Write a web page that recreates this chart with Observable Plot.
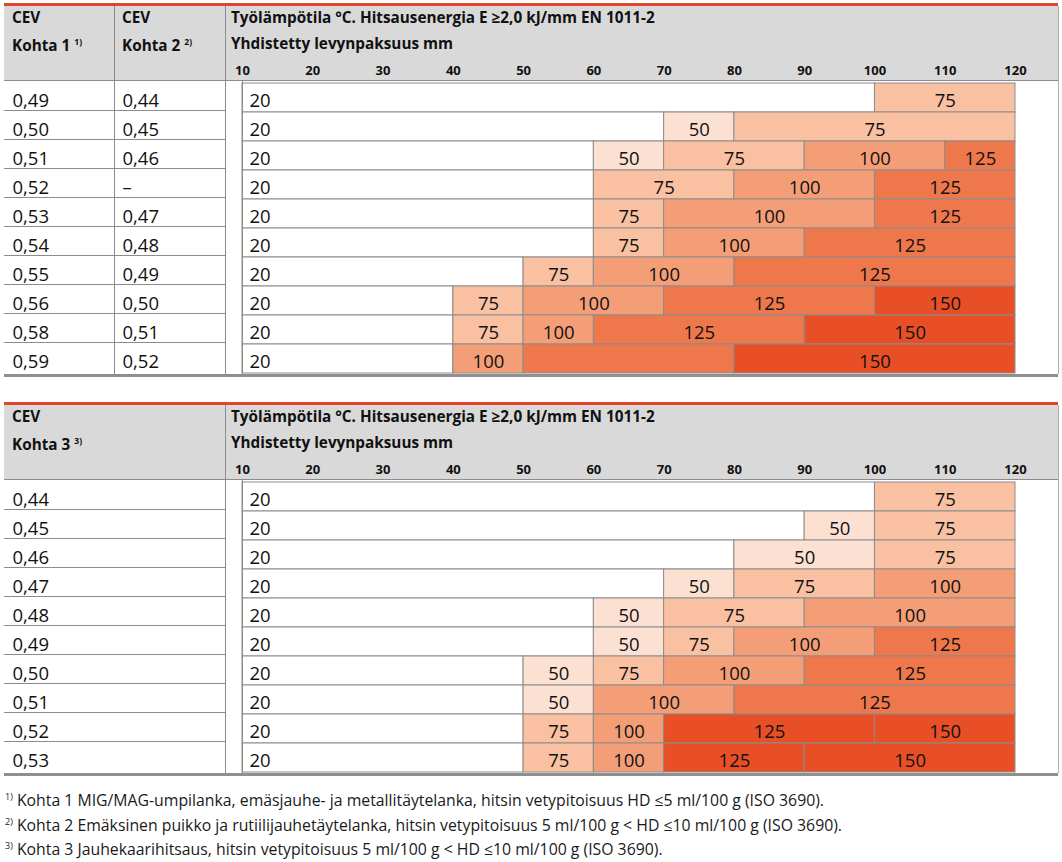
<!DOCTYPE html>
<html><head><meta charset="utf-8">
<script src="https://cdn.jsdelivr.net/npm/d3@7"></script>
<script src="https://cdn.jsdelivr.net/npm/@observablehq/plot@0.6"></script>
<style>
body{margin:0;background:#fff;font-family:"Open Sans",sans-serif;}
#chart svg{display:block;}
.notes{padding:4px 0 0 5px;font-size:15.8px;line-height:24.5px;color:#1a1a1a;}
.notes sup{font-size:9px;vertical-align:6px;line-height:0;}
</style></head>
<body>
<div id="chart"></div>
<div class="notes">
<div><sup>1)</sup> Kohta 1 MIG/MAG-umpilanka, emäsjauhe- ja metallitäytelanka, hitsin vetypitoisuus HD ≤5 ml/100 g (ISO 3690).</div>
<div><sup>2)</sup> Kohta 2 Emäksinen puikko ja rutiilijauhetäytelanka, hitsin vetypitoisuus 5 ml/100 g &lt; HD ≤10 ml/100 g (ISO 3690).</div>
<div><sup>3)</sup> Kohta 3 Jauhekaarihitsaus, hitsin vetypitoisuus 5 ml/100 g &lt; HD ≤10 ml/100 g (ISO 3690).</div>
</div>
<script>
// ---------- data ----------
const thicknessTicks = [10,20,30,40,50,60,70,80,90,100,110,120];
const headerTitle = "Työlämpötila °C. Hitsausenergia E ≥2,0 kJ/mm EN 1011-2";
const headerSub = "Yhdistetty levynpaksuus mm";

// Table 1
const cevKohta1 = ["0,49","0,50","0,51","0,52","0,53","0,54","0,55","0,56","0,58","0,59"];
const cevKohta2 = ["0,44","0,45","0,46","–","0,47","0,48","0,49","0,50","0,51","0,52"];
const t1Bounds = [
  [10,100,120],
  [10,70,80,120],
  [10,60,70,90,110,120],
  [10,60,80,100,120],
  [10,60,70,100,120],
  [10,60,70,90,120],
  [10,50,60,80,120],
  [10,40,50,70,100,120],
  [10,40,50,60,90,120],
  [10,40,50,80,120]
];
const t1Temps = [
  [20,75],
  [20,50,75],
  [20,50,75,100,125],
  [20,75,100,125],
  [20,75,100,125],
  [20,75,100,125],
  [20,75,100,125],
  [20,75,100,125,150],
  [20,75,100,125,150],
  [20,100,null,150]
];
const t1Tones = [
  [20,75],
  [20,50,75],
  [20,50,75,100,125],
  [20,75,100,125],
  [20,75,100,125],
  [20,75,100,125],
  [20,75,100,125],
  [20,75,100,125,150],
  [20,75,100,125,150],
  [20,100,125,150]
];

// Table 2
const cevKohta3 = ["0,44","0,45","0,46","0,47","0,48","0,49","0,50","0,51","0,52","0,53"];
const t2Bounds = [
  [10,100,120],
  [10,90,100,120],
  [10,80,100,120],
  [10,70,80,100,120],
  [10,60,70,90,120],
  [10,60,70,80,100,120],
  [10,50,60,70,90,120],
  [10,50,60,80,120],
  [10,50,60,70,100,120],
  [10,50,60,70,90,120]
];
const t2Temps = [
  [20,75],
  [20,50,75],
  [20,50,75],
  [20,50,75,100],
  [20,50,75,100],
  [20,50,75,100,125],
  [20,50,75,100,125],
  [20,50,100,125],
  [20,75,100,125,150],
  [20,75,100,125,150]
];
const t2Tones = [
  [20,75],
  [20,50,75],
  [20,50,75],
  [20,50,75,100],
  [20,50,75,100],
  [20,50,75,100,125],
  [20,50,75,100,125],
  [20,50,100,125],
  [20,75,100,150,150],
  [20,75,100,150,150]
];

const toneDomain = [20,50,75,100,125,150];
const toneColors = ["#ffffff","#fce1d3","#f9c0a2","#f49e78","#ef774c","#e84f27"];

// ---------- build ----------
function segments(keys, bounds, temps, tones) {
  const out = [];
  keys.forEach((k, i) => {
    const b = bounds[i];
    for (let j = 0; j < b.length - 1; j++)
      out.push({row: k, from: b[j], to: b[j+1], temp: temps[i][j], tone: tones[i][j]});
  });
  return out;
}

const W = 1062, LINE = "#8c8c8c", RED = "#e5432b", HEAD = "#d9d9d9";

function table({keys, cols, segs, height, marginBottom, heads, colDividers}) {
  const plot = Plot.plot({
    width: W, height, marginTop: 81, marginBottom, marginLeft: 242, marginRight: W - 1015,
    style: {fontFamily: "'Open Sans', sans-serif", fontSize: "18.5px", color: "#111", background: "#fff", overflow: "visible"},
    x: {domain: [10, 120], axis: null},
    y: {type: "band", domain: keys, padding: 0, axis: null},
    color: {type: "ordinal", domain: toneDomain, range: toneColors},
    marks: [
      Plot.barX(segs, {x1: "from", x2: "to", y: "row", fill: "tone", stroke: LINE, strokeWidth: 1}),
      Plot.text(segs.filter(d => d.temp != null && d.from !== 10),
        {x: d => (d.from + d.to) / 2, y: "row", text: d => String(d.temp), dy: 3}),
      Plot.text(segs.filter(d => d.from === 10),
        {x: "from", y: "row", text: d => String(d.temp), textAnchor: "start", dx: 7, dy: 3}),
      ...cols.map((col, ci) => Plot.text(keys.map((k, i) => ({row: k, label: col.values[i]})),
        {y: "row", text: "label", frameAnchor: "left", textAnchor: "start", dx: col.dx, dy: 3})),
      Plot.axisX(thicknessTicks, {anchor: "top", tickSize: 0, tickPadding: 7, fontWeight: "bold", fontSize: 13, label: null})
    ]
  });

  const svg = d3.select(plot);
  const ys = plot.scale("y");
  const top = ys.range[0], bottom = ys.range[1], step = ys.step;

  const bg = svg.insert("g", ":first-child");
  bg.append("rect").attr("x", 4).attr("y", 6).attr("width", 1054).attr("height", top - 6).attr("fill", HEAD);
  bg.append("rect").attr("x", 4).attr("y", 3).attr("width", 1054).attr("height", 3).attr("fill", RED);

  const fg = svg.append("g").attr("stroke", LINE).attr("stroke-width", 1);
  fg.append("line").attr("x1", 4).attr("x2", 1058).attr("y1", top - 0.5).attr("y2", top - 0.5);
  for (let i = 1; i < keys.length; i++) {
    const y = Math.round(top + i * step) + 0.5;
    fg.append("line").attr("x1", 4).attr("x2", 225).attr("y1", y).attr("y2", y);
  }
  for (const x of colDividers)
    fg.append("line").attr("x1", x + 0.5).attr("x2", x + 0.5).attr("y1", 6).attr("y2", bottom);
  fg.append("line").attr("x1", 242.5).attr("x2", 242.5).attr("y1", top).attr("y2", bottom);
  fg.append("line").attr("x1", 1058.5).attr("x2", 1058.5).attr("y1", 6).attr("y2", bottom).attr("stroke", "#b0b0b0");
  svg.append("rect").attr("x", 4).attr("y", bottom).attr("width", 1054).attr("height", 3).attr("fill", "#8f8f8f");

  const ht = svg.append("g").attr("font-family", "'Open Sans', sans-serif").attr("font-weight", "bold")
    .attr("font-size", 15.3).attr("fill", "#111").attr("text-anchor", "start");
  for (const h of heads) {
    ht.append("text").attr("x", h.x).attr("y", 23).text(h.l1);
    const t = ht.append("text").attr("x", h.x).attr("y", 51).text(h.l2 + " ");
    t.append("tspan").attr("font-size", 8.5).attr("dy", -6).text(h.sup);
  }
  ht.append("text").attr("x", 231).attr("y", 23).text(headerTitle);
  ht.append("text").attr("x", 231).attr("y", 48.5).text(headerSub);
  return plot;
}

const chart = document.getElementById("chart");
chart.append(table({
  keys: cevKohta1,
  cols: [{values: cevKohta1, dx: -230}, {values: cevKohta2, dx: -120}],
  segs: segments(cevKohta1, t1Bounds, t1Temps, t1Tones),
  height: 399, marginBottom: 25,
  heads: [{x: 12, l1: "CEV", l2: "Kohta 1", sup: "1)"}, {x: 122, l1: "CEV", l2: "Kohta 2", sup: "2)"}],
  colDividers: [114, 225]
}));
chart.append(table({
  keys: cevKohta3,
  cols: [{values: cevKohta3, dx: -230}],
  segs: segments(cevKohta3, t2Bounds, t2Temps, t2Tones),
  height: 385, marginBottom: 11,
  heads: [{x: 12, l1: "CEV", l2: "Kohta 3", sup: "3)"}],
  colDividers: [225]
}));
</script>
</body></html>
